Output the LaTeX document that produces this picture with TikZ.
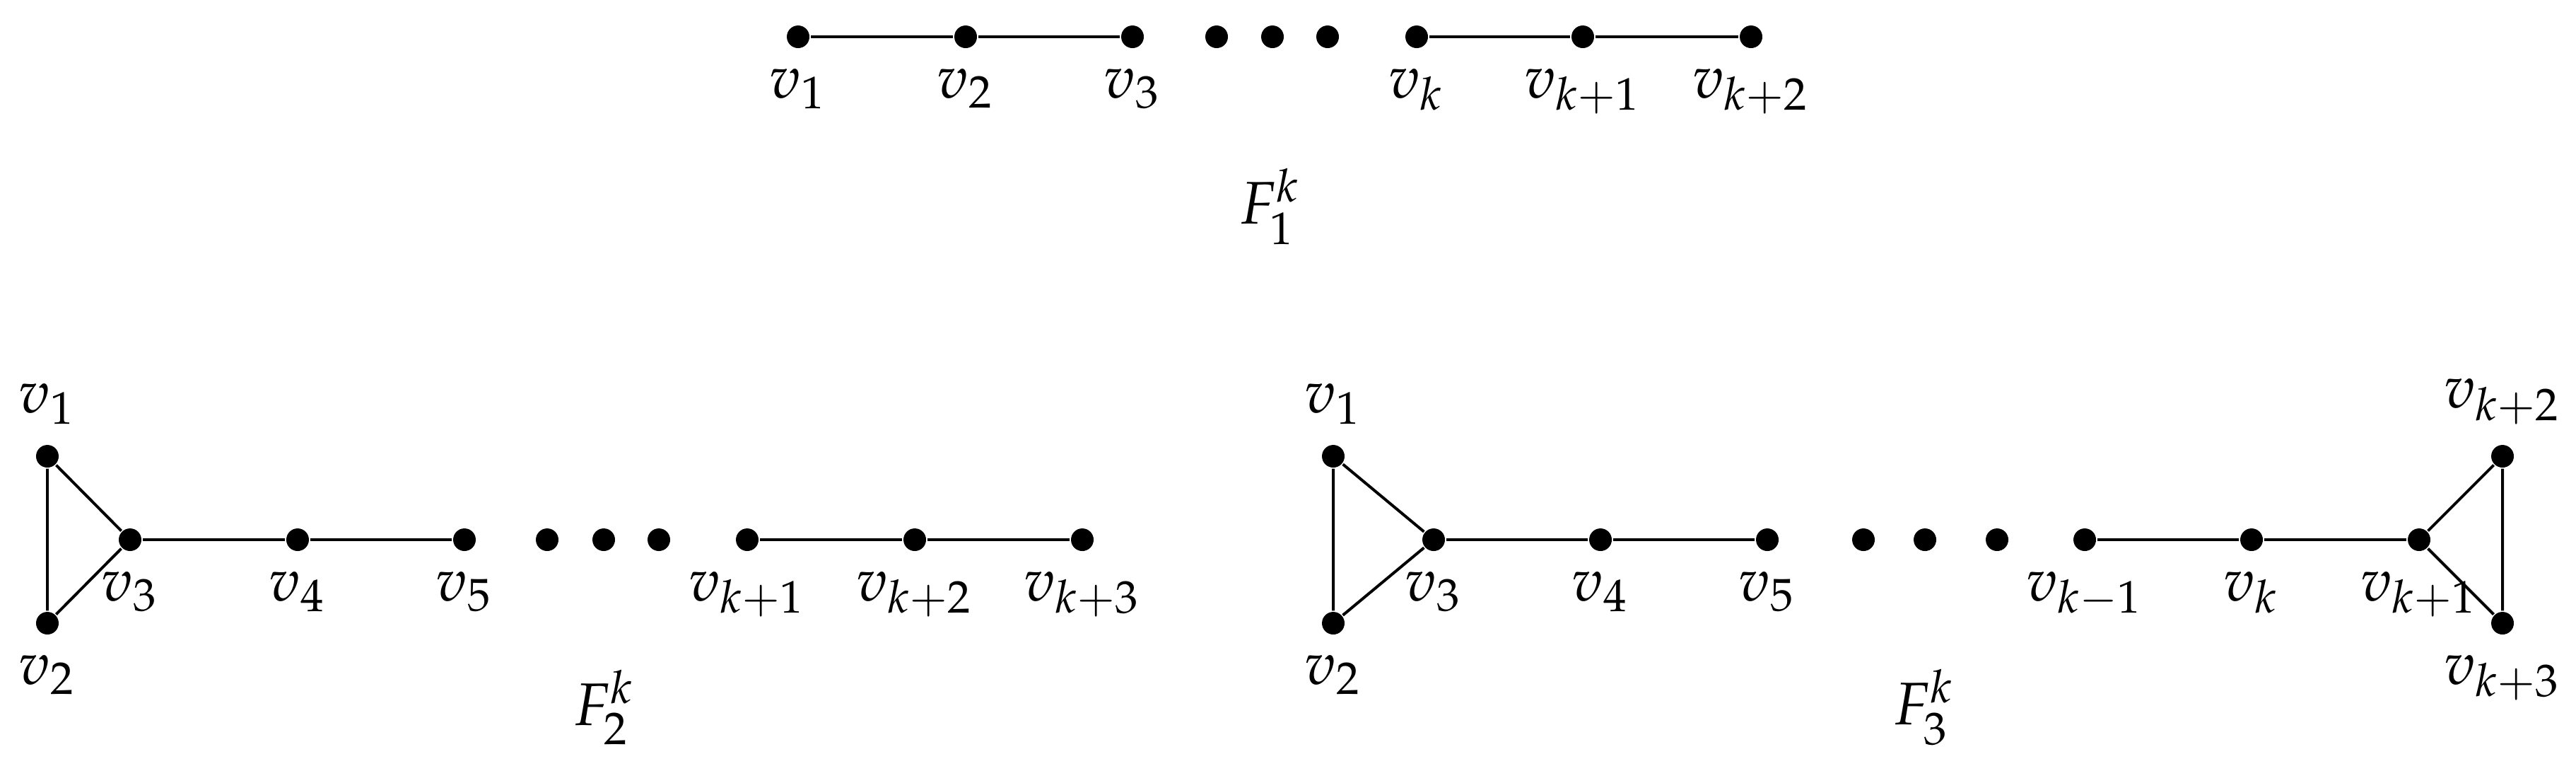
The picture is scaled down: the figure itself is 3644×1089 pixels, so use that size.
\documentclass[tikz,border=0pt]{standalone}
\usepackage{mathpazo}
\begin{document}
\begin{tikzpicture}[x=0.1176pt,y=-0.1176pt,
  vtx/.style={circle,fill=black,inner sep=0pt,minimum size=3.76pt},
  edge/.style={line width=0.47pt},
  every label/.style={inner sep=3pt}]
\useasboundingbox (0,0) rectangle (3644,1089);
% ---------- F1 ----------
\node[vtx,label=below:$v_1$] (a1) at (1129,52) {};
\node[vtx,label=below:$v_2$] (a2) at (1366,52) {};
\node[vtx,label=below:$v_3$] (a3) at (1602,52) {};
\node[vtx] (ad1) at (1721,52) {};
\node[vtx] (ad2) at (1800,52) {};
\node[vtx] (ad3) at (1878,52) {};
\node[vtx,label=below:$v_k$] (ak) at (2004,52) {};
\node[vtx,label=below:$v_{k+1}$] (ak1) at (2239,52) {};
\node[vtx,label=below:$v_{k+2}$] (ak2) at (2477,52) {};
\draw[edge] (a1) -- (a2) -- (a3);
\draw[edge] (ak) -- (ak1) -- (ak2);
\node (f1) at (1797,292) {$F_1^k$};
% ---------- F2 ----------
\node[vtx,label=above:$v_1$] (b1) at (67,645) {};
\node[vtx,label=below:$v_2$] (b2) at (67,881) {};
\node[vtx,label=below:$v_3$] (b3) at (184,763) {};
\node[vtx,label=below:$v_4$] (b4) at (421,763) {};
\node[vtx,label=below:$v_5$] (b5) at (657,763) {};
\node[vtx] (bd1) at (774,763) {};
\node[vtx] (bd2) at (854,763) {};
\node[vtx] (bd3) at (932,763) {};
\node[vtx,label=below:$v_{k+1}$] (bk1) at (1057,763) {};
\node[vtx,label=below:$v_{k+2}$] (bk2) at (1294,763) {};
\node[vtx,label=below:$v_{k+3}$] (bk3) at (1531,763) {};
\draw[edge] (b1) -- (b2) -- (b3) -- (b1);
\draw[edge] (b3) -- (b4) -- (b5);
\draw[edge] (bk1) -- (bk2) -- (bk3);
\node (f2) at (855,1000) {$F_2^k$};
% ---------- F3 ----------
\node[vtx,label=above:$v_1$] (c1) at (1886,645) {};
\node[vtx,label=below:$v_2$] (c2) at (1886,881) {};
\node[vtx,label=below:$v_3$] (c3) at (2028,763) {};
\node[vtx,label=below:$v_4$] (c4) at (2264,763) {};
\node[vtx,label=below:$v_5$] (c5) at (2500,763) {};
\node[vtx] (cd1) at (2636,763) {};
\node[vtx] (cd2) at (2723,763) {};
\node[vtx] (cd3) at (2825,763) {};
\node[vtx,label=below:$v_{k-1}$] (ckm) at (2949,763) {};
\node[vtx,label=below:$v_k$] (ck) at (3185,763) {};
\node[vtx,label=below:$v_{k+1}$] (ck1) at (3422,763) {};
\node[vtx,label=above:$v_{k+2}$] (ck2) at (3540,645) {};
\node[vtx,label=below:$v_{k+3}$] (ck3) at (3540,881) {};
\draw[edge] (c1) -- (c2) -- (c3) -- (c1);
\draw[edge] (c3) -- (c4) -- (c5);
\draw[edge] (ckm) -- (ck) -- (ck1);
\draw[edge] (ck1) -- (ck2) -- (ck3) -- (ck1);
\node (f3) at (2722,1000) {$F_3^k$};
\end{tikzpicture}
\end{document}
